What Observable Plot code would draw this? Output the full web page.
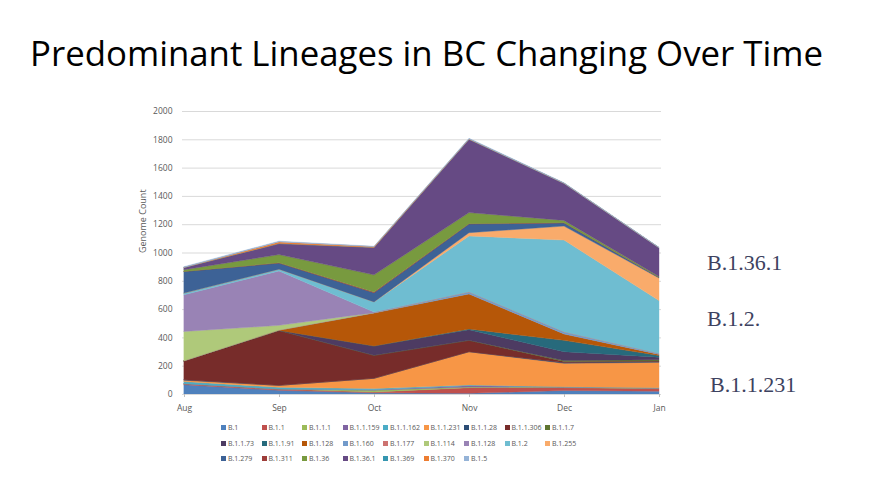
<!DOCTYPE html>
<html><head><meta charset="utf-8">
<script src="https://cdn.jsdelivr.net/npm/d3@7"></script>
<script src="https://cdn.jsdelivr.net/npm/@observablehq/plot@0.6"></script>
<style>
html,body{margin:0;padding:0;background:#fff;}
#page{position:relative;width:869px;height:480px;overflow:hidden;font-family:"Open Sans",sans-serif;}
#title{position:absolute;left:30px;top:36px;font-size:34.8px;font-weight:400;color:#000;white-space:nowrap;line-height:1;}
#chart{position:absolute;left:0;top:95px;}
.note{position:absolute;font-family:"Liberation Serif",serif;font-size:22px;color:#3d4260;line-height:1;white-space:nowrap;}
.lg{position:absolute;font-size:7px;color:#595959;white-space:nowrap;line-height:7px;height:7px;}
.lg i{display:inline-block;width:5px;height:5px;margin-right:2px;vertical-align:0px;}
</style>
</head><body>
<div id="page">
  <div id="title">Predominant Lineages in BC Changing Over Time</div>
  <div id="chart"></div>
  <div class="note" style="left:707px;top:252px;">B.1.36.1</div>
  <div class="note" style="left:707px;top:308px;">B.1.2.</div>
  <div class="note" style="left:710px;top:374px;">B.1.1.231</div>
  <div id="legend"></div>
</div>
<script>
const months = ["Aug", "Sep", "Oct", "Nov", "Dec", "Jan"];
const lineages = ["B.1", "B.1.1", "B.1.1.1", "B.1.1.159", "B.1.1.162", "B.1.1.231", "B.1.1.28", "B.1.1.306", "B.1.1.7",
  "B.1.1.73", "B.1.1.91", "B.1.128", "B.1.160", "B.1.177", "B.1.114", "B.1.128", "B.1.2", "B.1.255",
  "B.1.279", "B.1.311", "B.1.36", "B.1.36.1", "B.1.369", "B.1.370", "B.1.5"];
const colors = ["#4F81BD", "#C0504D", "#9BBB59", "#8064A2", "#4BACC6", "#F79646", "#2C4D75", "#772C2A", "#5F7530",
  "#4D3B62", "#276A7C", "#B65708", "#729ACA", "#CD7371", "#AFC97A", "#9983B5", "#6FBDD1", "#F9AB6B",
  "#3D6296", "#9E3D3A", "#789A3F", "#664A84", "#3596B0", "#ED7D31", "#95B3D7"];
// genome counts per month, in the same order as lineages
const aug = [66, 7, 0, 0, 15, 10, 3, 134, 0, 0, 0, 0, 0, 0, 207, 259, 12, 0, 153, 0, 12, 16, 0, 0, 6];
const sep = [26, 9, 0, 0, 12, 14, 0, 388, 0, 0, 0, 3, 0, 0, 33, 385, 12, 0, 43, 2, 58, 78, 0, 12, 5];
const oct = [8, 6, 12, 4, 8, 73, 0, 162, 0, 66, 0, 233, 3, 0, 0, 4, 72, 0, 64, 5, 122, 194, 0, 5, 3];
const nov = [5, 40, 4, 10, 5, 235, 0, 80, 0, 75, 5, 248, 14, 2, 0, 0, 394, 23, 61, 3, 78, 518, 0, 2, 5];
const dec = [25, 20, 3, 2, 2, 165, 5, 8, 6, 63, 80, 45, 14, 2, 0, 0, 648, 99, 22, 2, 16, 262, 0, 0, 4];
const jan = [20, 18, 2, 2, 2, 180, 5, 5, 8, 18, 12, 8, 6, 2, 0, 0, 372, 160, 5, 0, 6, 203, 0, 0, 3];
const yTicks = [0, 200, 400, 600, 800, 1000, 1200, 1400, 1600, 1800, 2000];

const byMonth = [aug, sep, oct, nov, dec, jan];
const rows = [];
lineages.forEach((name, i) => months.forEach((m, j) => rows.push({month: m, series: i, count: byMonth[j][i]})));

const chart = Plot.plot({
  width: 869, height: 325,
  marginLeft: 182, marginRight: 208, marginTop: 16, marginBottom: 26,
  x: {type: "point", domain: months, padding: 0, label: null},
  y: {domain: [0, 2000], label: null},
  color: {type: "ordinal", domain: d3.range(lineages.length), range: colors},
  style: {fontFamily: "Open Sans", fontSize: "8.5px", color: "#595959", background: "transparent"},
  marks: [
    Plot.gridY(yTicks, {stroke: "#d9d9d9", strokeOpacity: 1}),
    Plot.areaY(rows, {x: "month", y: "count", z: "series", fill: "series", stroke: "series", strokeWidth: 0.4, curve: "linear"}),
    Plot.ruleY([0], {stroke: "#d9d9d9"}),
    Plot.axisY(yTicks, {tickSize: 0, tickPadding: 10, label: null, tickFormat: d3.format("d")}),
    Plot.axisX({tickSize: 3, tickPadding: 7, label: null, stroke: "#bfbfbf"}),
    Plot.text(["Genome Count"], {frameAnchor: "left", rotate: -90, dx: -39, fontSize: 9, fill: "#595959"})
  ]
});
document.getElementById("chart").appendChild(chart);

const legend = document.getElementById("legend");
const rowTops = [424, 440, 455];
lineages.forEach((name, i) => {
  const d = document.createElement("div");
  d.className = "lg";
  d.style.left = (221 + (i % 9) * 40.5) + "px";
  d.style.top = rowTops[Math.floor(i / 9)] + "px";
  const sw = document.createElement("i");
  sw.style.background = colors[i];
  d.appendChild(sw);
  d.appendChild(document.createTextNode(name));
  legend.appendChild(d);
});
</script>
</body></html>
